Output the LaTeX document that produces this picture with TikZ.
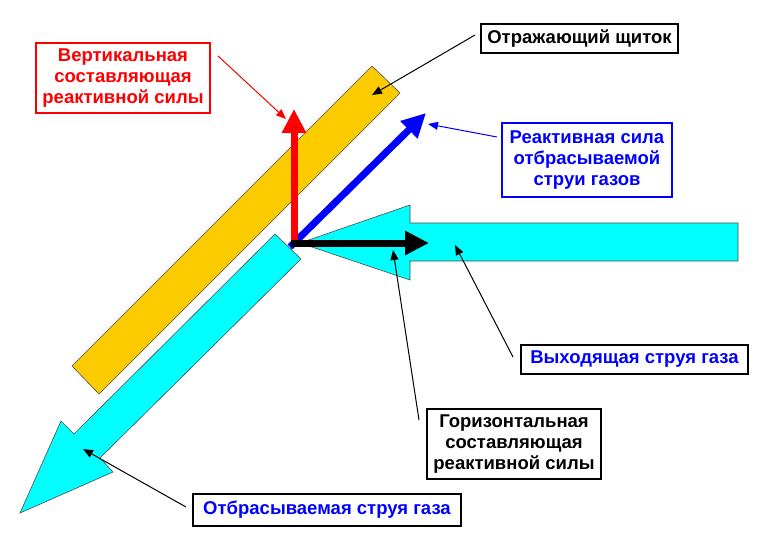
\documentclass[tikz,border=0pt]{standalone}
\usepackage{fontspec}
\setmainfont{Liberation Sans}
\usetikzlibrary{arrows.meta}
\definecolor{shield}{RGB}{252,204,0}
\definecolor{gas}{RGB}{0,255,255}
\tikzset{
  lbl/.style={draw, line width=1.6pt, fill=white, font=\bfseries\fontsize{18.5}{21}\selectfont, align=center, inner sep=0pt},
  callout/.style={line width=1pt, -{Triangle[length=10pt,width=8pt]}},
  force/.style={line width=7pt, line cap=butt, -{Triangle[length=24pt,width=23pt]}},
  part/.style={draw=black!70, line width=0.6pt}
}
\begin{document}
\begin{tikzpicture}[x=1pt,y=-1pt]
\useasboundingbox[fill=white] (0,0) rectangle (772,554);
% outgoing gas jet (horizontal)
\draw[part, fill=gas] (738,223) -- (410,223) -- (410,205) -- (300,243) -- (410,280) -- (410,261) -- (738,261) -- cycle;
% deflected gas jet (diagonal)
\draw[part, fill=gas] (275,234) -- (301,259) -- (100,458) -- (113,472) -- (20,513) -- (61,421) -- (74,434) -- cycle;
% shield
\draw[part, fill=shield] (372,66) -- (400,93) -- (99,394) -- (72,366) -- cycle;
% forces
\coordinate (O) at (294,242);
\coordinate (Rtip) at (426,113);
\coordinate (Vtip) at (294,109);
\coordinate (Htip) at (429,243);
\coordinate (Rst) at (290,247);
\draw[force, blue] (Rst) -- (Rtip);
\draw[force, red] (294,245) -- (Vtip);
\draw[force, black] (291,243) -- (Htip);
% labels
\node[lbl, draw=red, text=red, minimum width=174pt, minimum height=70pt] (lV) at (123,78) {Вертикальная\\составляющая\\реактивной силы};
\node[lbl, minimum width=197pt, minimum height=29pt] (lS) at (579.5,38.5) {Отражающий щиток};
\node[lbl, draw=blue, text=blue, minimum width=170pt, minimum height=74pt] (lR) at (587,160) {Реактивная сила\\отбрасываемой\\струи газов};
\node[lbl, text=blue, minimum width=227pt, minimum height=29pt] (lO) at (634.5,359.5) {Выходящая струя газа};
\node[lbl, minimum width=174pt, minimum height=70pt] (lH) at (514,444) {Горизонтальная\\составляющая\\реактивной силы};
\node[lbl, text=blue, minimum width=268pt, minimum height=32pt] (lD) at (327,510) {Отбрасываемая струя газа};
% callouts
\coordinate (cV1) at (218,56);  \coordinate (cV2) at (286,119);
\coordinate (cS1) at (475,35);  \coordinate (cS2) at (372,95);
\coordinate (cR1) at (497,137); \coordinate (cR2) at (428,124);
\coordinate (cO1) at (513,357); \coordinate (cO2) at (455,245);
\coordinate (cH1) at (419,420); \coordinate (cH2) at (393,250);
\coordinate (cD1) at (186,507); \coordinate (cD2) at (83,449);
\draw[callout, red] (cV1) -- (cV2);
\draw[callout] (cS1) -- (cS2);
\draw[callout, blue] (cR1) -- (cR2);
\draw[callout] (cO1) -- (cO2);
\draw[callout] (cH1) -- (cH2);
\draw[callout] (cD1) -- (cD2);
\end{tikzpicture}
\end{document}
